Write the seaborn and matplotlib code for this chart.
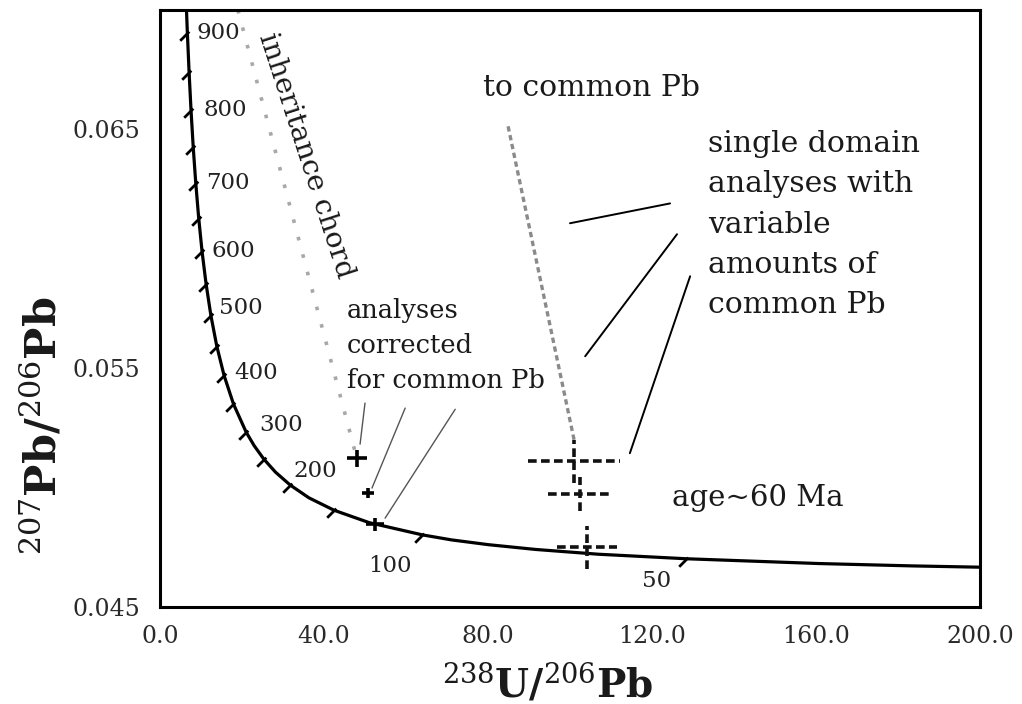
import numpy as np
import pandas as pd
import matplotlib
matplotlib.use("Agg")
import matplotlib.pyplot as plt
import seaborn as sns
from matplotlib.path import Path

# ---------------- data ----------------
# concordia curve (age in Ma, 238U/206Pb, 207Pb/206Pb)
conc_age = [30, 35, 40, 50, 60, 70, 80, 90, 100, 125, 150, 175, 200, 225, 250, 275,
            300, 350, 400, 450, 500, 550, 600, 650, 700, 750, 800, 850, 900, 950]
conc_x = [214.4, 183.7, 160.7, 128.4, 106.9, 91.6, 80.1, 71.1, 64.0, 51.07, 42.48,
          36.34, 31.73, 28.15, 25.29, 22.95, 20.99, 17.92, 15.62, 13.83, 12.40,
          11.23, 10.25, 9.426, 8.718, 8.105, 7.568, 7.095, 6.674, 6.298]
conc_y = [0.04662, 0.04672, 0.04682, 0.04702, 0.04721, 0.04741, 0.04761, 0.04781,
          0.04802, 0.04853, 0.04905, 0.04957, 0.05011, 0.05065, 0.05120, 0.05176,
          0.05233, 0.05350, 0.05470, 0.05594, 0.05722, 0.05854, 0.05990, 0.06131,
          0.06276, 0.06425, 0.06580, 0.06740, 0.06904, 0.07074]

tick_ages = [50, 100, 150, 200, 250, 300, 350, 400, 450, 500, 550, 600, 650, 700,
             750, 800, 850, 900]
label_ages = [900, 800, 700, 600, 500, 400, 300, 200, 100, 50]

# analyses corrected for common Pb
corr_x = [48.0, 50.7, 52.4]
corr_xerr = [2.4, 1.5, 2.2]
corr_y = [0.05123, 0.04977, 0.04847]
corr_yerr = [0.00035, 0.00020, 0.00027]

# single domain analyses with variable common Pb
sd_x = [101.0, 102.4, 104.1]
sd_xerr = [11.2, 7.7, 7.3]
sd_y = [0.05111, 0.04973, 0.04751]
sd_yerr = [0.00090, 0.00070, 0.00090]

# inheritance chord and line towards common Pb
chord_x = [19.0, 48.0]
chord_y = [0.0700, 0.05123]
cpb_x = [84.9, 101.0]
cpb_y = [0.06513, 0.05200]

# leader lines (x0, x1, y0, y1)
leaders_grey = [(50.0, 48.8, 0.05354, 0.05182),
                (59.8, 51.7, 0.05333, 0.04998),
                (72.0, 54.9, 0.05328, 0.04872)]
leaders_black = [(100.0, 124.4, 0.06107, 0.06190),
                 (126.1, 103.7, 0.06061, 0.05550),
                 (129.3, 114.6, 0.05885, 0.05144)]

xtick_vals = [0, 20, 40, 60, 80, 100, 120, 140, 160, 180, 200]
xtick_labels = ["0.0", "", "40.0", "", "80.0", "", "120.0", "", "160.0", "", "200.0"]
ytick_vals = [0.045, 0.050, 0.055, 0.060, 0.065]
ytick_labels = ["0.045", "", "0.055", "", "0.065"]

# ---------------- styling ----------------
sns.set_style("white")
plt.rcParams["font.family"] = ["DejaVu Serif"]
plt.rcParams["mathtext.fontset"] = "dejavuserif"

W, H = 1022, 704
fig = plt.figure(figsize=(W / 100, H / 100), dpi=100)
ax = fig.add_axes([160 / W, 1 - 607 / H, 820 / W, 597 / H])

def fx(px):
    return px / W

def fy(py):
    return 1 - py / H

conc = pd.DataFrame({"age": conc_age, "x": conc_x, "y": conc_y})
sns.lineplot(data=conc, x="x", y="y", sort=False, estimator=None,
             color="black", lw=2.3, ax=ax, zorder=3)

tick_marker = Path([(0.25, 0.25), (-1.0, -1.0)], [Path.MOVETO, Path.LINETO])
ticks = conc[conc["age"].isin(tick_ages)]
ax.scatter(ticks["x"], ticks["y"], marker=tick_marker, s=110,
           color="black", linewidths=2.0, zorder=3)

# chord and common-Pb line
sns.lineplot(x=chord_x, y=chord_y, color="#a8a8a8", lw=2.6,
             linestyle=(0, (1, 4)), ax=ax, zorder=2)
sns.lineplot(x=cpb_x, y=cpb_y, color="#8a8a8a", lw=2.4,
             linestyle=(0, (1.6, 1.1)), ax=ax, zorder=2)

# single-domain crosses (dashed)
sdx = np.array(sd_x); sdxe = np.array(sd_xerr)
sdy = np.array(sd_y); sdye = np.array(sd_yerr)
ax.hlines(sdy, sdx - sdxe, sdx + sdxe, colors="#111111", lw=2.6,
          linestyles=(0, (2.4, 1.2)), zorder=4)
ax.vlines(sdx, sdy - sdye, sdy + sdye, colors="#111111", lw=2.6,
          linestyles=(0, (2.4, 1.2)), zorder=4)

# corrected analyses (solid crosses)
ax.errorbar(corr_x, corr_y, xerr=corr_xerr, yerr=corr_yerr, fmt="none",
            ecolor="black", elinewidth=2.6, capsize=0, zorder=4)

for x0, x1, y0, y1 in leaders_grey:
    ax.plot([x0, x1], [y0, y1], color="#555555", lw=1.0, zorder=2)
for x0, x1, y0, y1 in leaders_black:
    ax.plot([x0, x1], [y0, y1], color="black", lw=1.4, zorder=2)

# age labels
label_offsets = {900: (31, 0), 800: (34, 0), 700: (32, 0), 600: (31, 0),
                 500: (30, -7), 400: (32, -2), 300: (35, -7), 200: (25, -14),
                 100: (-32, 31), 50: (-30, 22)}
for a in label_ages:
    r = conc[conc["age"] == a].iloc[0]
    dx, dy = label_offsets[a]
    ax.annotate(str(a), (r["x"], r["y"]), xytext=(dx, -dy),
                textcoords="offset pixels", ha="center", va="center",
                fontsize=16.5, color="#222222", zorder=5,
                annotation_clip=False)

# axes
ax.set_xlim(0, 200)
ax.set_ylim(0.045, 0.070)
ax.set_xticks(xtick_vals)
ax.set_xticklabels(xtick_labels)
ax.set_yticks(ytick_vals)
ax.set_yticklabels(ytick_labels)
ax.tick_params(axis="both", direction="in", length=7, width=2.0,
               labelsize=17, labelcolor="#2a2a2a", color="black")
ax.tick_params(axis="y", pad=14)
ax.tick_params(axis="x", pad=13)
ax.set_xlabel("")
ax.set_ylabel("")
for s in ax.spines.values():
    s.set_linewidth(2.2)
    s.set_color("black")

# annotation texts
tc = "#1a1a1a"
fig.text(fx(483), fy(96), "to common Pb", fontsize=21.5, color=tc,
         ha="left", va="baseline")
for i, line in enumerate(["single domain", "analyses with", "variable",
                          "amounts of", "common Pb"]):
    fig.text(fx(708), fy(152 + 40.3 * i), line, fontsize=21.5, color=tc,
             ha="left", va="baseline")
for i, line in enumerate(["analyses", "corrected", "for common Pb"]):
    fig.text(fx(347), fy(318 + 35 * i), line, fontsize=18.5, color=tc,
             ha="left", va="baseline")
fig.text(fx(672), fy(506), "age~60 Ma", fontsize=21, color=tc,
         ha="left", va="baseline")
fig.text(fx(306), fy(156), "inheritance chord", fontsize=20.5, color=tc,
         rotation=-72, rotation_mode="anchor", ha="center", va="center")

# axis titles
fig.text(fx(43), fy(426), r"$^{207}$Pb/$^{206}$Pb", fontsize=31,
         fontweight="bold", rotation=90, ha="center", va="center", color=tc)
fig.text(fx(548), fy(683), r"$^{238}$U/$^{206}$Pb", fontsize=28,
         fontweight="bold", ha="center", va="center", color=tc)

fig.savefig("out.png", dpi=100)
